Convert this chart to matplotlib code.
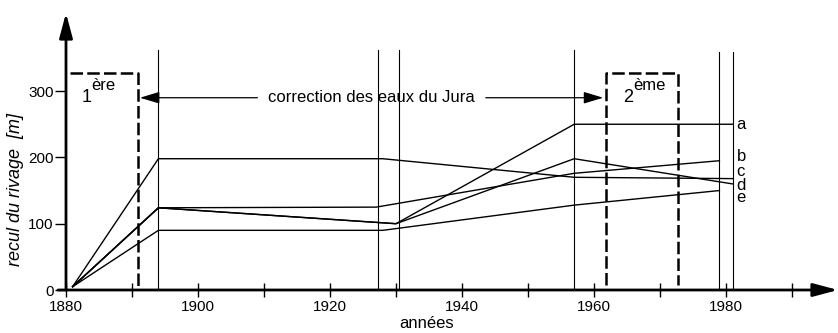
import matplotlib
matplotlib.use("Agg")
import matplotlib.pyplot as plt

plt.rcParams['font.family'] = ['Liberation Sans', 'DejaVu Sans']

# ---- data ----
series_names = ['a', 'b', 'c', 'd', 'e']
years_a = [1881, 1894, 1930, 1957, 1981]
vals_a = [5, 124, 100, 250, 250]
years_b = [1881, 1894, 1927, 1957, 1979]
vals_b = [5, 124, 125, 176, 195]
years_c = [1881, 1894, 1928, 1957, 1981]
vals_c = [5, 198, 198, 170, 168]
years_d = [1881, 1894, 1930, 1957, 1981]
vals_d = [5, 124, 100, 198, 160]
years_e = [1881, 1894, 1928, 1957, 1979]
vals_e = [5, 90, 90, 128, 150]
label_vals = [250, 201, 178, 158, 139]

event_years = [1894, 1927.3, 1930.4, 1957, 1979, 1981]
event_top = [362, 362, 362, 362, 359, 359]

first_corr = (1880.6, 1890.9)
second_corr = (1961.8, 1972.7)
corr_top = 328

xticks_major = [1880, 1900, 1920, 1940, 1960, 1980]
xticks_minor = [1890, 1910, 1930, 1950, 1970, 1990]
yticks = [0, 100, 200, 300]

W, H = 838, 333
fig = plt.figure(figsize=(W / 100, H / 100), dpi=100)
ax = fig.add_axes([66 / W, 43 / H, (838 - 66) / W, 277 / H])
ax.set_xlim(1880, 1880 + 772 / 6.6)
ax.set_ylim(0, 277 / 0.663)
for s in ax.spines.values():
    s.set_visible(False)
ax.patch.set_alpha(0)

# axes with arrows
arr_kw = dict(arrowstyle='-|>,head_length=0.75,head_width=0.2', lw=2, color='k',
              mutation_scale=20, shrinkA=0, shrinkB=0)
ax.annotate('', xy=(1880, 277 / 0.663), xytext=(1880, 0), arrowprops=arr_kw,
            annotation_clip=False)
ax.annotate('', xy=(1880 + 772 / 6.6, 0), xytext=(1878.8, 0), arrowprops=arr_kw,
            annotation_clip=False)

ax.set_xticks(xticks_major)
ax.set_xticks(xticks_minor, minor=True)
ax.set_yticks(yticks)
ax.tick_params(axis='x', which='both', direction='inout', length=10, width=1, labelsize=11, pad=2)
ax.tick_params(axis='y', direction='out', length=8, width=1, labelsize=11, pad=1)

# event vertical lines
for yr, top in zip(event_years, event_top):
    ax.plot([yr, yr], [0, top], color='k', lw=0.8)

# correction boxes (dashed)
dkw = dict(color='k', lw=1.8, dashes=(5, 1.7))
ax.plot([first_corr[0], first_corr[1], first_corr[1]], [corr_top, corr_top, 3], **dkw)
ax.plot([second_corr[0], second_corr[0], second_corr[1], second_corr[1]],
        [7, corr_top, corr_top, 7], **dkw)

ax.text(1883.2, 291, '1', fontsize=13, ha='center', va='center')
ax.text(1883.9, 308, 'ère', fontsize=12, ha='left', va='center')
ax.text(1965.2, 291, '2', fontsize=13, ha='center', va='center')
ax.text(1966.0, 308, 'ème', fontsize=12, ha='left', va='center')

# correction text + arrows
ax.text(1926.2, 290, 'correction des eaux du Jura', fontsize=12, ha='center', va='center')
akw = dict(arrowstyle='-|>,head_length=0.6,head_width=0.18', lw=0.9, color='k',
           mutation_scale=20, shrinkA=0, shrinkB=0)
ax.annotate('', xy=(1891.2, 290), xytext=(1909, 290), arrowprops=akw)
ax.annotate('', xy=(1961.4, 290), xytext=(1943.6, 290), arrowprops=akw)

# data series
all_x = [years_a, years_b, years_c, years_d, years_e]
all_y = [vals_a, vals_b, vals_c, vals_d, vals_e]
for xs, ys in zip(all_x, all_y):
    ax.plot(xs, ys, color='k', lw=1.0)
for name, yv in zip(series_names, label_vals):
    ax.text(1981.6, yv, name, fontsize=12, ha='left', va='center')

fig.text(16 / W, 1 - 189 / H, 'recul du rivage  [m]', fontsize=13, style='italic',
         rotation=90, ha='center', va='center')
fig.text((66 + (1934.6 - 1880) * 6.6) / W, 1 - 324 / H, 'années', fontsize=12,
         ha='center', va='center')

fig.savefig('out.png', dpi=100)
